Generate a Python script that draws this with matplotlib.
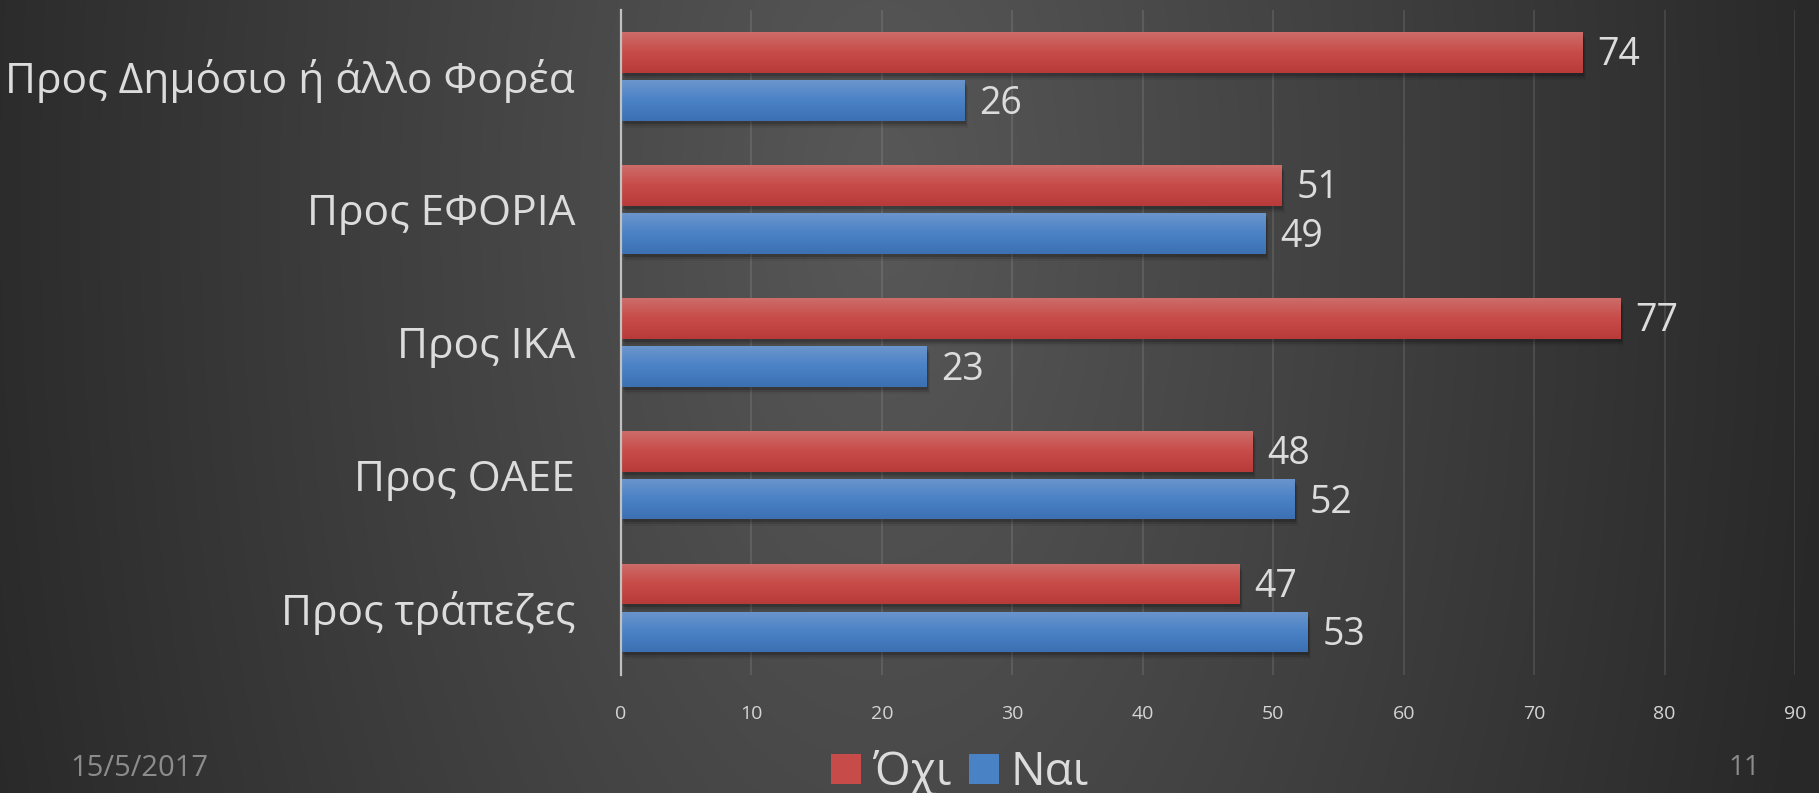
import numpy as np
import matplotlib
matplotlib.use("Agg")
import matplotlib.pyplot as plt
import matplotlib.transforms as mtransforms
from matplotlib.patches import Patch

plt.rcParams['font.family'] = ['Open Sans', 'DejaVu Sans']

# ---- data ----
categories = ["Προς Δημόσιο ή άλλο Φορέα", "Προς ΕΦΟΡΙΑ", "Προς ΙΚΑ", "Προς ΟΑΕΕ", "Προς τράπεζες"]
ochi = [73.7, 50.6, 76.6, 48.4, 47.4]   # Όχι
nai = [26.3, 49.4, 23.4, 51.6, 52.6]    # Ναι
ochi_labels = ["74", "51", "77", "48", "47"]
nai_labels = ["26", "49", "23", "52", "53"]
series_names = ["Όχι", "Ναι"]
x_ticks = [0, 10, 20, 30, 40, 50, 60, 70, 80, 90]
date_text = "15/5/2017"
page_text = "11"

W, H = 1819, 793
fig = plt.figure(figsize=(W / 100, H / 100), dpi=100)
fig.patch.set_facecolor("#2f2f2f")

# ---- background radial gradient ----
bg = fig.add_axes([0, 0, 1, 1], zorder=-10)
bg.set_axis_off()
yy, xx = np.mgrid[0:H, 0:W]
r = np.sqrt(((xx - 880) / 1000.0) ** 2 + ((yy - 200) / 2000.0) ** 2)
val = np.clip(88 - 50 * r, 40, 90) / 255.0
img = np.dstack([val, val, val])
bg.imshow(img, extent=(0, 1, 0, 1), aspect="auto", origin="upper")
bg.set_xlim(0, 1)
bg.set_ylim(0, 1)

# ---- main axes ----
left = 621 / W
width = (1795 - 621) / W
top_px, bot_px = 10, 674.5
ax = fig.add_axes([left, (H - bot_px) / H, width, (bot_px - top_px) / H])
ax.set_facecolor("none")

y = np.arange(len(categories))
bh = 0.306
off = 0.18

red_grad = ["#cd6c69", "#c74b48", "#b83b39"]
blue_grad = ["#6b95cc", "#4a82c6", "#3c70b2"]


def grad_array(cols, n=64):
    from matplotlib.colors import to_rgb
    c = np.array([to_rgb(cc) for cc in cols])
    t = np.linspace(0, 1, n)
    pos = np.linspace(0, 1, len(cols))
    arr = np.stack([np.interp(t, pos, c[:, k]) for k in range(3)], axis=1)
    return arr[:, None, :]


def draw_series(vals, ys, cols):
    # soft shadow
    for dx, dy, a in [(2, -3, 0.16), (3, -5, 0.10), (4, -7, 0.06)]:
        tr = ax.transData + mtransforms.ScaledTranslation(dx / 100, dy / 100, fig.dpi_scale_trans)
        ax.barh(ys, vals, height=bh, color="black", alpha=a, transform=tr, zorder=2, linewidth=0)
    bars = ax.barh(ys, vals, height=bh, color=cols[1], zorder=3, linewidth=0)
    g = grad_array(cols)
    for b in bars:
        x0, y0 = b.get_x(), b.get_y()
        w, h = b.get_width(), b.get_height()
        im = ax.imshow(g, extent=(x0, x0 + w, y0 + h, y0), aspect="auto",
                       origin="upper", zorder=4, interpolation="bilinear")
        im.set_clip_path(b)
    return bars


bars_r = draw_series(ochi, y - off, red_grad)
bars_b = draw_series(nai, y + off, blue_grad)

for v, yy_, lab in zip(ochi, y - off, ochi_labels):
    ax.annotate(lab, (v, yy_), xytext=(11, -2), textcoords="offset points",
                va="center", ha="left", fontsize=27, color="#dcdcdc", zorder=6)
for v, yy_, lab in zip(nai, y + off, nai_labels):
    ax.annotate(lab, (v, yy_), xytext=(11, -2.5), textcoords="offset points",
                va="center", ha="left", fontsize=27, color="#dcdcdc", zorder=6)

ax.set_xlim(0, 90)
ax.set_ylim(len(categories) - 0.5, -0.5)
ax.set_xticks(x_ticks)
ax.set_xticklabels([str(t) for t in x_ticks], fontsize=14, color="#d4d4d4")
ax.set_yticks(y)
ax.set_yticklabels(categories, fontsize=30.6, color="#dcdcdc")
ax.tick_params(axis="x", length=0, pad=22)
ax.tick_params(axis="y", length=0, pad=33)
ax.grid(axis="x", color="white", alpha=0.1, linewidth=1.5, zorder=0)
ax.set_axisbelow(True)
for s in ["top", "right", "bottom"]:
    ax.spines[s].set_visible(False)
ax.spines["left"].set_color("#c0c0c0")
ax.spines["left"].set_linewidth(1.6)
ax.spines["left"].set_zorder(5)

# ---- legend ----
handles = [Patch(facecolor=red_grad[1], edgecolor="none"),
           Patch(facecolor=blue_grad[1], edgecolor="none")]
leg = fig.legend(handles, series_names, loc="center", bbox_to_anchor=(960 / W, (H - 773) / H),
                 ncol=2, frameon=False, fontsize=33, handlelength=0.65, handleheight=0.65,
                 handletextpad=0.25, columnspacing=0.4, borderpad=0)
for t in leg.get_texts():
    t.set_color("#dcdcdc")

fig.text(70 / W, (H - 768) / H, date_text, fontsize=21, color="#8c8c8c", ha="left", va="center")
fig.text(1728 / W, (H - 768) / H, page_text, fontsize=20, color="#8c8c8c", ha="left", va="center")

fig.savefig("out.png", dpi=100, facecolor=fig.get_facecolor())
